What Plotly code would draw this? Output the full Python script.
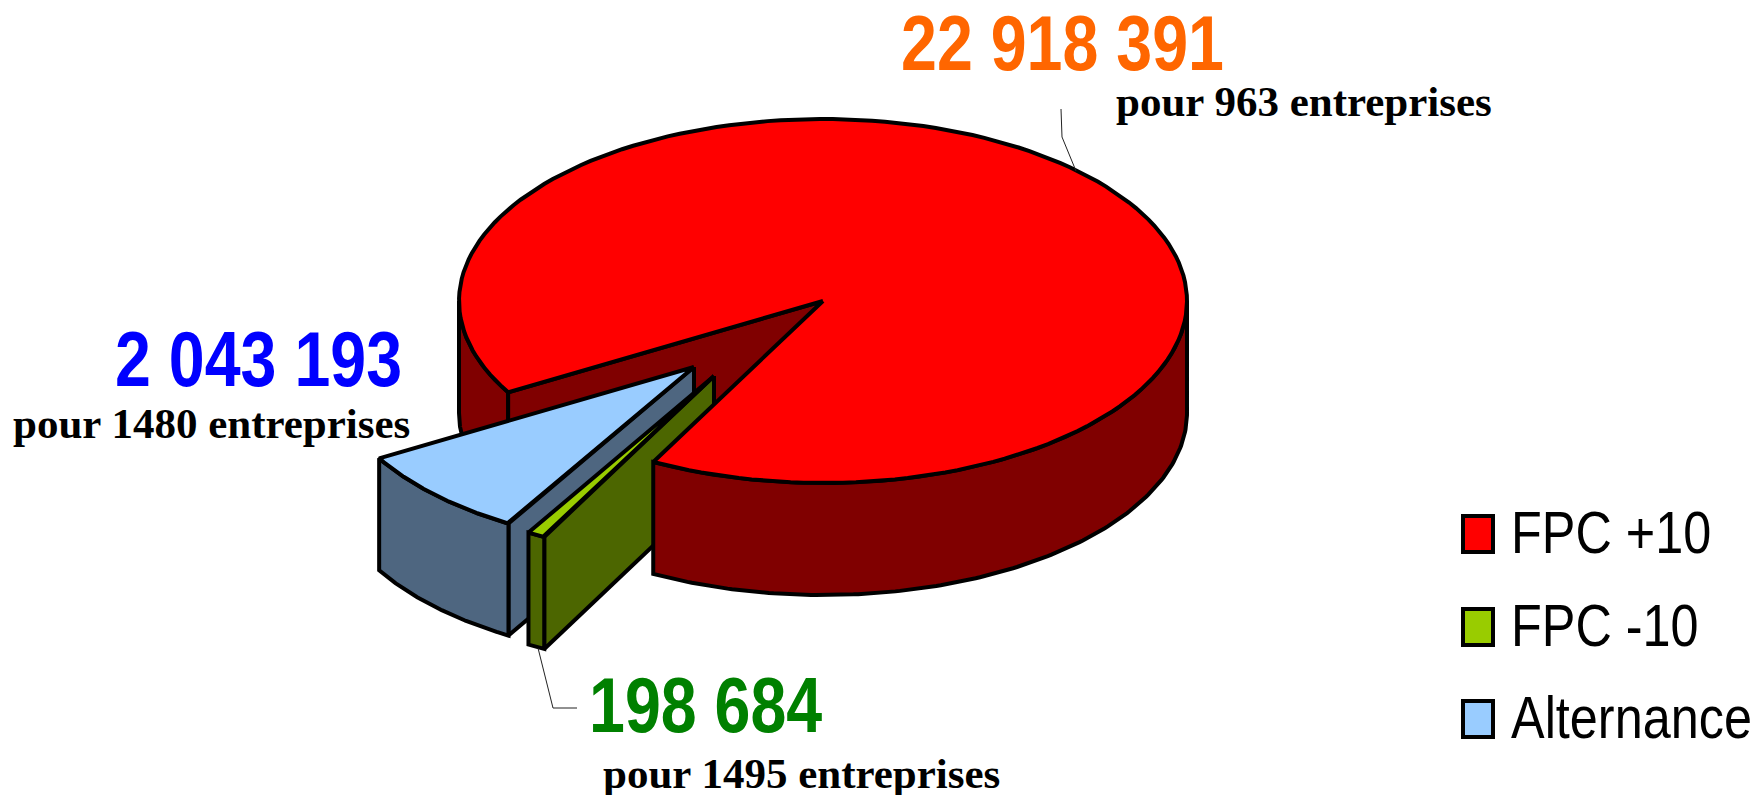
import json
import numpy as np
import plotly.graph_objects as go

# ---------- data ----------
categories = ["FPC +10", "FPC -10", "Alternance"]
values = [22918391, 198684, 2043193]
companies = [963, 1495, 1480]

# ---------- styles ----------
top_colors = ["#FF0000", "#99CC00", "#99CCFF"]
wall_colors = ["#800000", "#4C6600", "#4E6680"]
value_colors = ["#FF6600", "#008000", "#0000FF"]

# ---------- pie geometry (page pixels) ----------
PAGE_W, PAGE_H = 1755, 795
CX, CY, RX, RY, DEPTH = 823, 301, 364, 182, 112
RED_END_ANGLE = 117.8          # screen angle (deg, y down) where the first slice ends
offsets = [(0, 0), (-109, 75), (-129, 66)]   # exploded slices
LW = 4

total = sum(values)
sweeps = [v / total * 360 for v in values]
red_from = RED_END_ANGLE - sweeps[0]      # goes round to RED_END_ANGLE
green_to = RED_END_ANGLE + sweeps[1]
blue_to = green_to + sweeps[2]


def arc(a0, a1, dx=0, dy=0, n=160):
    t = np.radians(np.linspace(a0, a1, n))
    return CX + dx + RX * np.cos(t), CY + dy + RY * np.sin(t)


fig = go.Figure()


def poly(xs, ys, fill):
    xs = list(xs) + [xs[0]]
    ys = list(ys) + [ys[0]]
    fig.add_trace(go.Scatter(x=xs, y=ys, mode="lines", fill="toself", fillcolor=fill,
                             line=dict(color="black", width=LW), hoverinfo="skip",
                             showlegend=False))


def wall(a0, a1, fill, dx=0, dy=0):
    x, y = arc(a0, a1, dx, dy)
    poly(np.r_[x, x[::-1]], np.r_[y, y[::-1] + DEPTH], fill)


def cut_wall(angle, fill, dx=0, dy=0):
    x, y = arc(angle, angle, dx, dy, n=1)
    ax, ay = CX + dx, CY + dy
    poly([ax, x[0], x[0], ax], [ay, y[0], y[0] + DEPTH, ay + DEPTH], fill)


def top(a0, a1, fill, dx=0, dy=0):
    x, y = arc(a0, a1, dx, dy)
    poly(np.r_[CX + dx, x], np.r_[CY + dy, y], fill)


# red: what lies behind the detached slices
wall(blue_to, 180, wall_colors[0])
cut_wall(blue_to, wall_colors[0])

# blue slice
dx, dy = offsets[2]
cut_wall(green_to, wall_colors[2], dx, dy)
wall(green_to, blue_to, wall_colors[2], dx, dy)
top(green_to, blue_to, top_colors[2], dx, dy)

# green slice
dx, dy = offsets[1]
cut_wall(RED_END_ANGLE, wall_colors[1], dx, dy)
wall(RED_END_ANGLE, green_to, wall_colors[1], dx, dy)
top(RED_END_ANGLE, green_to, top_colors[1], dx, dy)

# red: front
wall(0, RED_END_ANGLE, wall_colors[0])
top(red_from, RED_END_ANGLE, top_colors[0])

# leader lines
leaders = [
    ([1061, 1062, 1076], [109, 137, 171]),
    ([538, 553, 577], [648, 708, 708]),
]
for lx, ly in leaders:
    fig.add_trace(go.Scatter(x=lx, y=ly, mode="lines", line=dict(color="#222222", width=1),
                             hoverinfo="skip", showlegend=False))

# ---------- texts ----------
SANS = "Liberation Sans"
SERIF = "Liberation Serif"
value_pos = [(901, 69), (589, 731), (115, 385)]      # left, baseline
comp_pos = [(1116, 116), (603, 788), (13, 438)]
NUM_SIZE, COMP_SIZE, LEG_SIZE = 77, 43, 60
condense = {str(NUM_SIZE): 0.838, str(LEG_SIZE): 0.84}   # the original face is a narrow one


def label(text, x, base, size, family, color):
    fig.add_annotation(x=x, y=1 - (base - 0.905 * size) / PAGE_H, yref="paper", text=text,
                       showarrow=False, xanchor="left", yanchor="top", xshift=-1, borderpad=0,
                       font=dict(family=family, size=size, color=color))


for v, c, col, vp, cp in zip(values, companies, value_colors, value_pos, comp_pos):
    label("<b>" + f"{v:,}".replace(",", " ") + "</b>", vp[0], vp[1], NUM_SIZE, SANS, col)
    label(f"<b>pour {c} entreprises</b>", cp[0], cp[1], COMP_SIZE, SERIF, "black")

# ---------- legend ----------
key_x0, key_x1, key_h = 1463, 1493, 36
legend_base = [552, 645, 737]
legend_text_x = 1511
for name, col, b in zip(categories, top_colors, legend_base):
    fig.add_shape(type="rect", x0=key_x0, x1=key_x1, y0=b - key_h, y1=b, fillcolor=col,
                  line=dict(color="black", width=LW))
    label(name, legend_text_x, b, LEG_SIZE, SANS, "black")

fig.update_layout(
    width=PAGE_W, height=PAGE_H, margin=dict(l=0, r=0, t=0, b=0),
    paper_bgcolor="white", plot_bgcolor="white", showlegend=False,
    xaxis=dict(range=[0, PAGE_W], visible=False, fixedrange=True),
    yaxis=dict(range=[PAGE_H, 0], visible=False, fixedrange=True),
)

post = """
document.body.style.margin='0';document.body.style.overflow='hidden';
var CONDENSE = %s;
function condenseTexts(){
  document.querySelectorAll('.annotation-text').forEach(function(t){
    var k = CONDENSE[parseInt(t.style.fontSize)];
    if(!k) return;
    t.removeAttribute('transform');
    var x0 = t.getBBox().x;
    t.setAttribute('transform','translate('+x0+',0) scale('+k+',1) translate('+(-x0)+',0)');
  });
}
condenseTexts();
var gd = document.getElementById('{plot_id}');
if(gd.on) gd.on('plotly_afterplot', condenseTexts);
setTimeout(condenseTexts, 30);
""" % json.dumps(condense)

fig.write_html("out.html", config={"displayModeBar": False}, post_script=post)
